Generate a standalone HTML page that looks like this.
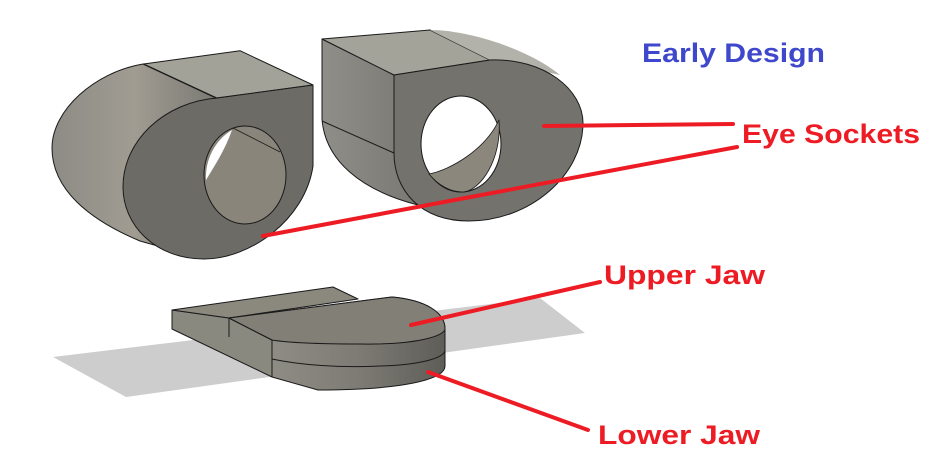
<!DOCTYPE html>
<html><head><meta charset="utf-8"><style>html,body{margin:0;padding:0;background:#fff}svg{display:block}</style></head>
<body>
<svg width="943" height="473" viewBox="0 0 943 473" xmlns="http://www.w3.org/2000/svg">
<defs>
<linearGradient id="side" x1="0" y1="0" x2="1" y2="0">
<stop offset="0" stop-color="#8c8b85"/><stop offset="0.5" stop-color="#a19c92"/><stop offset="1" stop-color="#7a7973"/></linearGradient>
<linearGradient id="side2" x1="0" y1="0" x2="1" y2="0">
<stop offset="0" stop-color="#8f8e88"/><stop offset="1" stop-color="#6e6d68"/></linearGradient>
<linearGradient id="jawside" x1="0" y1="0" x2="1" y2="0">
<stop offset="0" stop-color="#96958d"/><stop offset="0.6" stop-color="#7d7b74"/><stop offset="1" stop-color="#5e5d58"/></linearGradient>
</defs>
<g stroke="#1a1a1a" stroke-width="1" stroke-linejoin="round">
<!-- left eye body -->
<path d="M143,64 C95,72 52,110 52,148 C52,190 90,220 140,241 L204,259 L216,98 Z" fill="url(#side)"/>
<polygon points="143.6,64 240,50.7 313,85 216.8,98" fill="#a3a298"/>
<path d="M217,98 L313,85 L313,166 C305,220 250,259 204,259 C155,259 123,225 123,187 C123,140 165,102 217,98 Z" fill="#6c6b66"/>
<ellipse cx="245" cy="175" rx="41" ry="49" fill="#8a857b"/>
<path d="M232,130 C215,140 205,160 206,180 C215,165 225,150 232,130 Z" fill="#fff" stroke="none"/>
<line x1="233" y1="128" x2="280" y2="152" stroke-width="0.8"/>
<!-- right eye -->
<path d="M322,39 L322,119 C325,160 360,190 418,205 L469,221 L394,75 Z" fill="url(#side2)"/>
<polygon points="322,39 430,30 490,60 394,75" fill="#a4a39a"/>
<path d="M430,30 C470,30 530,50 560,75 L490,60 Z" fill="#b3b2aa" stroke="none"/>
<line x1="322" y1="121" x2="394" y2="153"/>
<path d="M394,75 L490,60 C545,58 583,90 583,123 C583,175 530,221 469,221 C420,221 394,190 394,153 Z" fill="#73726d"/>
<ellipse cx="461" cy="144" rx="40" ry="48" fill="#fff"/>
<path d="M429,174 C450,170 485,150 499,120 C502,160 480,191 463,192 C450,192 438,185 429,174 Z" fill="#8c877d" stroke-width="0.8"/>
<!-- jaw shadow -->
<polygon points="53,357 540,298 585,333 126,397" fill="#cdcdcd" stroke="none"/>
<!-- jaw lower plate -->
<path d="M172,310 L172,329 L272,377 L272,340 L229,318 Z" fill="#8a8980"/>
<polygon points="172,310 333,287 358,299 229,318" fill="#8b897e"/>
<!-- D body -->
<path d="M229,318 L392,297 C425,300 445,312 445,329 L445,366 C445,380 400,390 318,390 L272,377 L272,340 Z" fill="url(#jawside)"/>
<path d="M229,318 L392,297 C425,300 445,312 445,329 C445,335 420,345 360,344 C320,344 290,343 272,340 Z" fill="#827f77"/>
<path d="M272,359 C300,365 340,368 380,366 C420,365 445,358 445,350" fill="none"/>
<line x1="272" y1="340" x2="272" y2="377"/>
<line x1="229" y1="318" x2="229" y2="337"/>
</g>
<!-- red lines -->
<g stroke="#ed1c24" stroke-width="4" stroke-linecap="round">
<line x1="544" y1="126" x2="733" y2="124"/>
<line x1="263" y1="236" x2="737" y2="147"/>
<line x1="411" y1="325" x2="600" y2="282"/>
<line x1="428" y1="372" x2="588" y2="430"/>
</g>
<g font-family="'Liberation Sans', sans-serif" font-weight="bold" font-size="27">
<text x="642" y="62" fill="#3f48cc" textLength="183" lengthAdjust="spacingAndGlyphs">Early Design</text>
<text x="742" y="143" fill="#ed1c24" textLength="178" lengthAdjust="spacingAndGlyphs">Eye Sockets</text>
<text x="604" y="284" fill="#ed1c24" textLength="161" lengthAdjust="spacingAndGlyphs">Upper Jaw</text>
<text x="598" y="444" fill="#ed1c24" textLength="162" lengthAdjust="spacingAndGlyphs">Lower Jaw</text>
</g>
</svg>
</body></html>
